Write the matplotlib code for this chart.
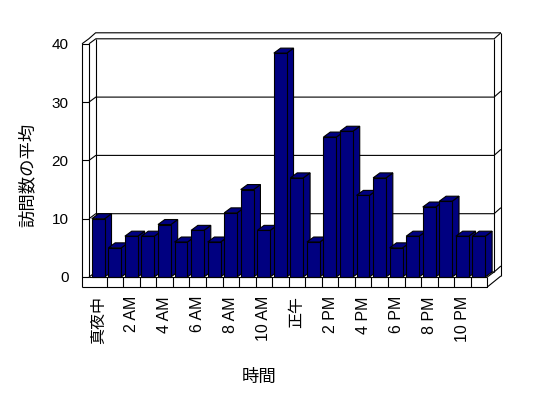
import matplotlib
matplotlib.use('Agg')
import matplotlib.pyplot as plt
from matplotlib.patches import Polygon

# ---- data ----
hours = list(range(24))
values = [10, 5, 7, 7, 9, 6, 8, 6, 11, 15, 8, 38.4,
          17, 6, 24, 25, 14, 17, 5, 7, 12, 13, 7, 7]
tick_labels = ['真夜中', '2 AM', '4 AM', '6 AM', '8 AM', '10 AM',
               '正午', '2 PM', '4 PM', '6 PM', '8 PM', '10 PM']
y_ticks = [0, 10, 20, 30, 40]
x_title = '時間'
y_title = '訪問数の平均'

FONT = ['Liberation Sans', 'Noto Sans CJK JP', 'DejaVu Sans']
plt.rcParams['font.family'] = FONT

W, H = 548, 398
fig = plt.figure(figsize=(W / 100, H / 100), dpi=100)
fig.patch.set_facecolor('white')

px0, px1 = 90.15, 487.3
py0, py1 = 277.0, 43.8
ax = fig.add_axes([px0 / W, (H - py0) / H, (px1 - px0) / W, (py0 - py1) / H])
ax.set_xlim(0, 24)
ax.set_ylim(0, 40)
for s in ax.spines.values():
    s.set_visible(False)
ax.set_facecolor('none')

sx = 24 / (px1 - px0)
sy = 40 / (py0 - py1)

LW = 0.8
K = 'black'
NAVY = '#000080'

# geometry of the 3D box (pixel offsets converted to data units)
XL = (89 - px0) * sx
XLo = (82 - px0) * sx
XR = 24
DX = 6.8 * sx
DY = 5.0 * sy
TX = 6.8 * sx
TY = 6.0 * sy
FT = 10.0 * sy
TOP = 40


def line(xs, ys, z=1):
    ax.plot(xs, ys, color=K, lw=LW, clip_on=False, zorder=z,
            solid_capstyle='butt')


# left wall front face
line([XLo, XLo, XL, XL], [-FT, TOP, TOP, 0])
# floor front face
line([XLo, XR, XR], [-FT, -FT, 0], z=60)
line([XL, XR], [0, 0], z=60)
# left wall top & back wall top
line([XLo, XLo + DX, XLo + DX + TX, XR + DX + TX],
     [TOP, TOP + DY, TOP + DY + TY, TOP + DY + TY])
line([XL, XL + DX, XR + DX, XR + DX + TX],
     [TOP, TOP + DY, TOP + DY, TOP + DY + TY])
# back wall verticals
line([XL + DX, XL + DX], [TOP + DY, DY])
line([XR + DX, XR + DX], [TOP + DY, DY])
line([XR + DX + TX, XR + DX + TX], [TOP + DY + TY, -FT + DY + TY])
# floor right face
line([XR, XR + DX + TX], [-FT, -FT + DY + TY])
line([XR, XR + DX], [0, DY])

# gridlines on walls + tick marks
for v in y_ticks[:-1]:
    line([XL, XL + DX, XR + DX, XR + DX + TX],
         [v, v + DY, v + DY, v + DY + TY])
    line([XLo, XL], [v, v])

# category tick marks across the floor front face
for h in hours[1:]:
    line([h, h], [0, -FT], z=60)

# bars
BX0 = 0.1
BW = 0.78
bars = ax.bar([h + BX0 for h in hours], values, width=BW, align='edge',
              color=NAVY, edgecolor=K, linewidth=LW)
for i, (rect, v) in enumerate(zip(bars, values)):
    x0 = hours[i] + BX0
    x1 = x0 + BW
    side = Polygon([(x1, 0), (x1, v), (x1 + DX, v + DY), (x1 + DX, DY)],
                   closed=True, fc=NAVY, ec=K, lw=LW, clip_on=False,
                   zorder=3 + 2 * i)
    top = Polygon([(x0, v), (x1, v), (x1 + DX, v + DY), (x0 + DX, v + DY)],
                  closed=True, fc=NAVY, ec=K, lw=LW, clip_on=False,
                  zorder=3 + 2 * i)
    ax.add_patch(side)
    ax.add_patch(top)
    rect.set_zorder(4 + 2 * i)
    rect.set_clip_on(False)

# ticks / labels
ax.set_yticks(y_ticks)
ax.set_yticklabels([str(t) for t in y_ticks], fontsize=11)
ax.tick_params(axis='y', length=0, pad=(px0 - 68.5) * 0.72)
ax.set_xticks([h + 0.5 for h in hours[::2]])
ax.set_xticklabels(tick_labels, rotation=90, fontsize=11.5)
ax.tick_params(axis='x', length=0, pad=(296 - py0) * 0.72)

fig.text(27 / W, 1 - 175 / H, y_title, rotation=90, ha='center',
         va='center', fontsize=12.5)
fig.text(259 / W, 1 - 377 / H, x_title, ha='center', va='center',
         fontsize=12.5)

fig.savefig('out.png', dpi=100, facecolor='white')
